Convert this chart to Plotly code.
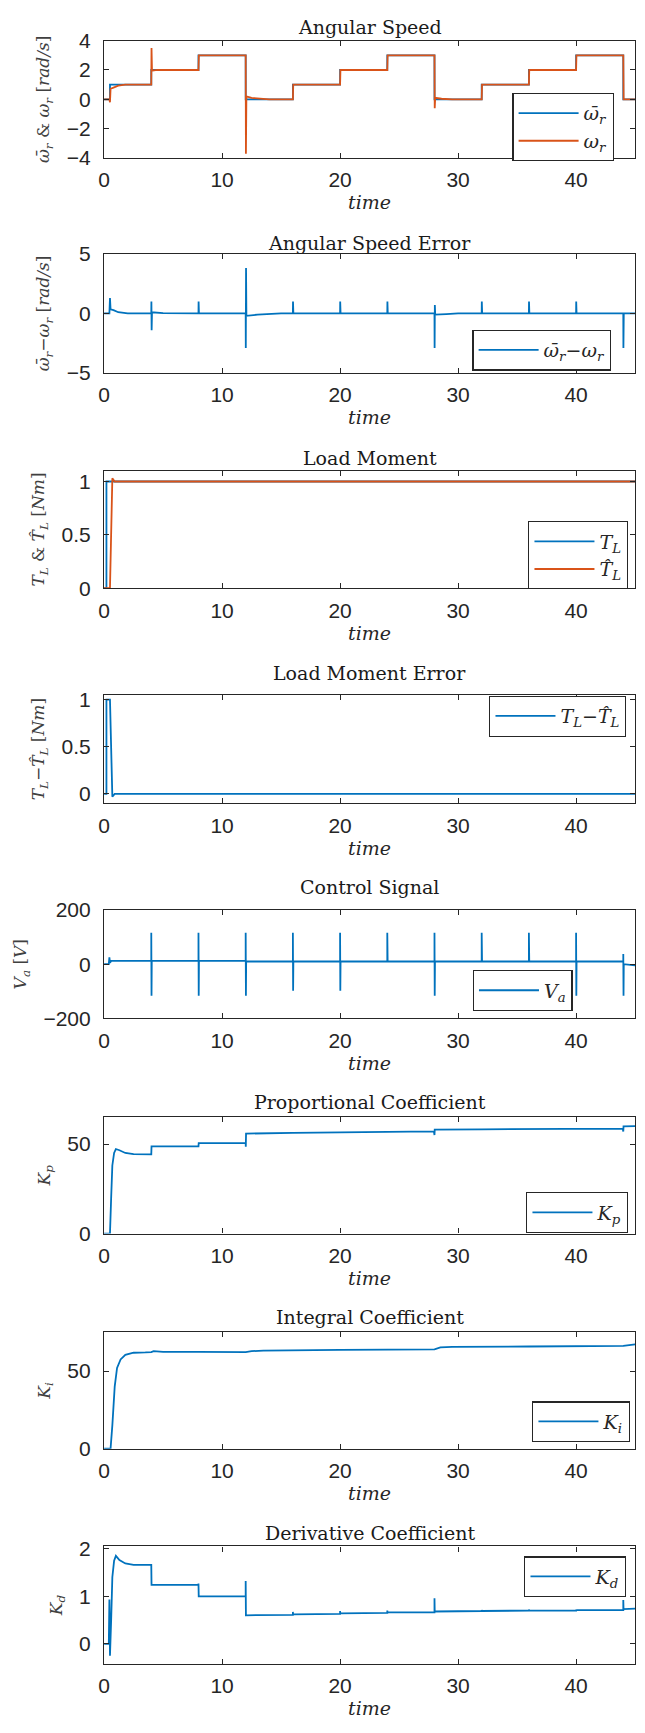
import plotly.graph_objects as go

# ---------------- data ----------------
# 1) Angular speed
t_wref = [0, 0.5, 0.5, 4, 4, 8, 8, 12, 12, 16, 16, 20, 20, 24, 24, 28, 28, 32, 32, 36, 36, 40, 40, 44, 44, 45]
w_ref = [0, 0, 1, 1, 2, 2, 3, 3, 0, 0, 1, 1, 2, 2, 3, 3, 0, 0, 1, 1, 2, 2, 3, 3, 0, 0]

t_w = [0, 0.45, 0.5, 0.55, 0.8, 1.2, 1.8, 4.0, 4.02, 4.06, 4.5, 8.0, 8.03, 12.0, 12.02, 12.06,
       12.5, 13.2, 14.0, 16.0, 16.03, 20.0, 20.03, 24.0, 24.03, 28.0, 28.02, 28.06, 28.6, 29.5,
       32.0, 32.03, 36.0, 36.03, 40.0, 40.03, 44.0, 44.03, 45.0]
w_act = [0, 0, -0.2, 0.72, 0.8, 0.93, 1.0, 1.0, 3.5, 1.95, 2.0, 2.0, 3.0, 3.0, -3.7, 0.2,
         0.1, 0.03, 0, 0, 1, 1, 2, 2, 3, 3, -0.6, 0.1, 0.04, 0,
         0, 1, 1, 2, 2, 3, 3, 0, 0]

# 2) Angular speed error
t_we = [0, 0.45, 0.5, 0.55, 0.8, 1.2, 2.0, 4.0, 4.01, 4.03, 4.06, 5.0, 6.0, 8.0, 8.01, 8.04,
        12.0, 12.01, 12.03, 12.06, 13.0, 14.0, 15.0, 16.0, 16.01, 16.04, 20.0, 20.01, 20.04,
        24.0, 24.01, 24.04, 28.0, 28.01, 28.03, 28.06, 29.0, 30.0, 32.0, 32.01, 32.04,
        36.0, 36.01, 36.04, 40.0, 40.01, 40.04, 44.0, 44.01, 44.04, 45.0]
w_err = [0, 0, 1.3, 0.35, 0.28, 0.1, 0, 0, 1.0, -1.4, 0.1, 0.03, 0, 0, 1.0, 0,
         0, -2.9, 3.8, -0.2, -0.1, -0.03, 0, 0, 1.0, 0, 0, 1.0, 0,
         0, 1.0, 0, 0, -2.9, 0.7, -0.1, -0.05, 0, 0, 1.0, 0,
         0, 1.0, 0, 0, 1.0, 0, 0, -2.9, 0, 0]

# 3) Load moment
t_tl = [0, 0.2, 0.2, 45]
tl = [0, 0, 1, 1]
t_tlh = [0, 0.5, 0.7, 0.9, 45]
tl_hat = [0, 0, 1.03, 1.0, 1.0]

# 4) Load moment error
t_tle = [0, 0.2, 0.2, 0.5, 0.7, 0.9, 45]
tl_err = [0, 0, 1, 1, -0.03, 0, 0]

# 5) Control signal
t_va = [0, 0.4, 0.45, 0.5, 0.6,
        4, 4, 4.02, 4.04, 8, 8, 8.02, 8.04, 12, 12, 12.02, 12.04,
        16, 16, 16.02, 16.04, 20, 20, 20.02, 20.04, 24, 24, 24.03,
        28, 28, 28.02, 28.04, 32, 32, 32.03, 36, 36, 36.03,
        40, 40, 40.02, 40.04, 44, 44, 44.02, 44.04, 45]
va = [0, 0, 25, 5, 12,
      12, 116, -116, 12, 12, 116, -116, 12, 12, 116, -116, 10,
      10, 116, -98, 10, 10, 116, -98, 10, 10, 116, 10,
      10, 116, -116, 10, 10, 116, 10, 10, 116, 10,
      10, 116, -116, 10, 10, 38, -116, 0, -4]

# 6) Proportional coefficient
t_kp = [0, 0.5, 0.6, 0.7, 0.85, 1.0, 1.3, 1.8, 2.5, 4.0, 4.02, 8.0, 8.02, 12.0, 12.01, 12.03,
        16, 20, 24, 27.95, 28.0, 28.02, 32, 36, 40, 43.95, 44.0, 44.02, 45]
kp = [0, 0, 20, 38, 45, 47.2, 46.5, 45, 44.3, 44.2, 48.7, 48.7, 50.5, 50.5, 48.5, 55.8,
      56.2, 56.5, 56.8, 57, 55, 58, 58.2, 58.4, 58.5, 58.6, 57, 59.8, 60]

# 7) Integral coefficient
t_ki = [0, 0.55, 0.7, 0.9, 1.1, 1.4, 1.8, 2.5, 3.5, 4.0, 4.2, 5, 8, 12, 12.5, 13.5,
        20, 28, 28.5, 29.5, 36, 40, 44, 45]
ki = [0, 0, 15, 40, 52, 57.5, 60.5, 61.8, 62, 62.2, 62.8, 62.4, 62.3, 62.2, 62.8, 63.2,
      63.6, 64, 65.2, 65.6, 65.8, 66, 66.2, 67.2]

# 8) Derivative coefficient
t_kd = [0, 0.4, 0.45, 0.5, 0.6, 0.7, 0.85, 1.0, 1.3, 1.8, 2.5, 4.0, 4.02, 8.0, 8.0, 8.02,
        12.0, 12.0, 12.02, 16.0, 16.0, 16.02, 20.0, 20.0, 20.02, 24.0, 24.0, 24.02,
        28.0, 28.0, 28.02, 32.0, 32.0, 32.02, 36.0, 36.0, 36.02, 40.0, 40.0, 40.02,
        44.0, 44.0, 44.02, 45.0]
kd = [0, 0, 0.93, -0.25, 0.5, 1.4, 1.75, 1.85, 1.76, 1.69, 1.66, 1.66, 1.24, 1.24, 1.27, 1.0,
      1.0, 1.32, 0.6, 0.61, 0.67, 0.62, 0.63, 0.69, 0.64, 0.65, 0.7, 0.66,
      0.66, 0.96, 0.68, 0.69, 0.71, 0.69, 0.7, 0.72, 0.7, 0.7, 0.72, 0.71,
      0.71, 0.92, 0.73, 0.74]

for a, b in [(t_wref, w_ref), (t_w, w_act), (t_we, w_err), (t_tl, tl), (t_tlh, tl_hat),
             (t_tle, tl_err), (t_va, va), (t_kp, kp), (t_ki, ki), (t_kd, kd)]:
    assert len(a) == len(b), (len(a), len(b))

x_ticks = [0, 10, 20, 30, 40]

BLUE = "#0072BD"
ORANGE = "#D95319"
AX = "#262626"

# ---------------- panels ----------------
panels = [
    dict(title="Angular Speed", ylab="<i>ω̄<sub>r</sub></i> & <i>ω<sub>r</sub></i> [<i>rad/s</i>]",
         yr=[-4, 4], yt=[-4, -2, 0, 2, 4], box=(29, 148), tpx=15,
         series=[(t_wref, w_ref, BLUE, "<i>ω̄<sub>r</sub></i>"), (t_w, w_act, ORANGE, "<i>ω<sub>r</sub></i>")],
         leg=(614, 82)),
    dict(title="Angular Speed Error", ylab="<i>ω̄<sub>r</sub></i>−<i>ω<sub>r</sub></i> [<i>rad/s</i>]",
         yr=[-5, 5], yt=[-5, 0, 5], box=(245, 366), tpx=234,
         series=[(t_we, w_err, BLUE, "<i>ω̄<sub>r</sub></i>−<i>ω<sub>r</sub></i>")],
         leg=(611, 322)),
    dict(title="Load Moment", ylab="<i>T<sub>L</sub></i> & <i>T̂<sub>L</sub></i> [<i>Nm</i>]",
         yr=[0, 1.1], yt=[0, 0.5, 1], box=(465, 584), tpx=452,
         series=[(t_tl, tl, BLUE, "<i>T<sub>L</sub></i>"), (t_tlh, tl_hat, ORANGE, "<i>T̂<sub>L</sub></i>")],
         leg=(628, 516)),
    dict(title="Load Moment Error", ylab="<i>T<sub>L</sub></i>−<i>T̂<sub>L</sub></i> [<i>Nm</i>]",
         yr=[-0.1, 1.05], yt=[0, 0.5, 1], box=(692, 802), tpx=670,
         series=[(t_tle, tl_err, BLUE, "<i>T<sub>L</sub></i>−<i>T̂<sub>L</sub></i>")],
         leg=(626, 693)),
    dict(title="Control Signal", ylab="<i>V<sub>a</sub></i> [<i>V</i>]",
         yr=[-200, 200], yt=[-200, 0, 200], box=(910, 1020), tpx=887,
         series=[(t_va, va, BLUE, "<i>V<sub>a</sub></i>")],
         leg=(572, 971)),
    dict(title="Proportional Coefficient", ylab="<i>K<sub>p</sub></i>",
         yr=[0, 65], yt=[0, 50], box=(1120, 1238), tpx=1105,
         series=[(t_kp, kp, BLUE, "<i>K<sub>p</sub></i>")],
         leg=(628, 1196)),
    dict(title="Integral Coefficient", ylab="<i>K<sub>i</sub></i>",
         yr=[0, 75], yt=[0, 50], box=(1338, 1456), tpx=1323,
         series=[(t_ki, ki, BLUE, "<i>K<sub>i</sub></i>")],
         leg=(630, 1408)),
    dict(title="Derivative Coefficient", ylab="<i>K<sub>d</sub></i>",
         yr=[-0.42, 2.05], yt=[0, 1, 2], box=(1555, 1674), tpx=1541,
         series=[(t_kd, kd, BLUE, "<i>K<sub>d</sub></i>")],
         leg=(626, 1565)),
]

W, H = 645, 1733
XL, XR = 99, 635

fig = go.Figure()
layout = dict(
    width=W, height=H, margin=dict(l=0, r=0, t=0, b=0),
    paper_bgcolor="white", plot_bgcolor="white", showlegend=True,
    annotations=[],
)

TICKFONT = dict(family="Liberation Sans, Arial, sans-serif", size=21, color=AX)
SERIF = "DejaVu Serif, serif"

for i, p in enumerate(panels, start=1):
    sfx = "" if i == 1 else str(i)
    legname = "legend" if i == 1 else f"legend{i}"
    for (tx, ty, col, name) in p["series"]:
        fig.add_trace(go.Scatter(
            x=tx, y=ty, mode="lines", name=name,
            line=dict(color=col, width=1.8),
            xaxis="x" + sfx, yaxis="y" + sfx, legend=legname,
        ))
    top, bot = p["box"]
    layout["xaxis" + sfx] = dict(
        domain=[XL / W, XR / W], range=[0, 45], anchor="y" + sfx,
        tickvals=x_ticks, ticks="inside", ticklen=5, tickcolor=AX, tickwidth=1,
        showline=True, linecolor=AX, linewidth=1.3, mirror="ticks",
        showgrid=False, zeroline=False, tickfont=TICKFONT, ticklabelstandoff=3,
        title=dict(text="<i>time</i>", font=dict(family=SERIF, size=19, color=AX), standoff=0),
    )
    layout["yaxis" + sfx] = dict(
        domain=[1 - bot / H, 1 - top / H], range=p["yr"], anchor="x" + sfx,
        tickvals=p["yt"], ticks="inside", ticklen=5, tickcolor=AX, tickwidth=1,
        showline=True, linecolor=AX, linewidth=1.3, mirror="ticks",
        showgrid=False, zeroline=False, tickfont=TICKFONT, ticklabelstandoff=8,
        title=dict(text=p["ylab"], font=dict(family=SERIF, size=17, color="#404040"), standoff=12),
    )
    lx, ly = p["leg"]
    layout[legname] = dict(
        x=lx / W, y=1 - ly / H, xanchor="right", yanchor="top",
        xref="paper", yref="paper",
        bgcolor="white", bordercolor=AX, borderwidth=1.3,
        font=dict(family=SERIF, size=19, color=AX),
        itemwidth=60, tracegroupgap=2,
    )
    layout["annotations"].append(dict(
        text=p["title"], x=(XL + XR) / 2 / W, y=1 - p["tpx"] / H,
        xref="paper", yref="paper", xanchor="center", yanchor="middle",
        showarrow=False, font=dict(family=SERIF, size=19, color="#1a1a1a"),
    ))

fig.update_layout(**layout)
fig.write_html(
    "out.html",
    config={"displayModeBar": False},
    post_script="document.body.style.margin='0';document.body.style.overflow='hidden';",
)
